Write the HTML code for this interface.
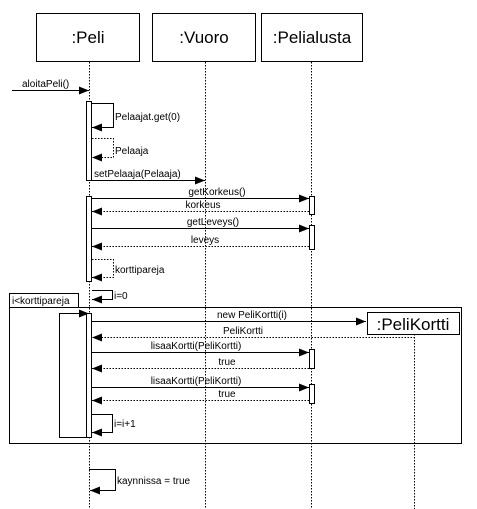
<!DOCTYPE html>
<html><head><meta charset="utf-8"><style>
html,body{margin:0;padding:0;background:#fff;width:477px;height:509px;overflow:hidden}
svg{display:block}
text{font-family:"Liberation Sans",Arial,sans-serif;fill:#000}
</style></head><body>
<svg width="477" height="509" viewBox="0 0 477 509" xmlns="http://www.w3.org/2000/svg">
<defs>
<marker id="a" markerWidth="10" markerHeight="8" refX="10" refY="4" orient="auto" markerUnits="userSpaceOnUse">
<path d="M0,0 L10,4 L0,8 Z" fill="#000"/></marker>
</defs>
<g fill="#fff" stroke="#000" stroke-width="1">
<rect x="36.5" y="13.5" width="103" height="48"/>
<rect x="152.5" y="13.5" width="103" height="48"/>
<rect x="261.5" y="13.5" width="101" height="48"/>
</g>
<g font-size="17" text-anchor="middle">
<text x="88" y="43">:Peli</text>
<text x="204" y="43">:Vuoro</text>
<text x="312" y="43">:Pelialusta</text>
</g>
<g stroke="#000" stroke-dasharray="1.5,1.5" stroke-width="1">
<line x1="89.5" y1="62" x2="89.5" y2="509"/>
<line x1="205.5" y1="62" x2="205.5" y2="509"/>
<line x1="311.5" y1="62" x2="311.5" y2="509"/>
<line x1="414.5" y1="334" x2="414.5" y2="509"/>
</g>
<!-- frame -->
<rect x="9.5" y="307.5" width="452" height="136" fill="none" stroke="#000"/>
<rect x="9.5" y="293.5" width="69" height="14" fill="#fff" stroke="#000"/>
<text x="12" y="304" font-size="10">i&lt;korttipareja</text>
<rect x="59.5" y="313.5" width="30" height="124" fill="#fff" stroke="#000"/>
<!-- activations -->
<g fill="#fff" stroke="#000">
<rect x="86.5" y="101.5" width="5" height="79"/>
<rect x="86.5" y="196.5" width="5" height="85"/>
<rect x="86.5" y="313.5" width="5" height="124"/>
<rect x="309.5" y="196.5" width="5" height="18"/>
<rect x="309.5" y="225.5" width="5" height="24"/>
<rect x="309.5" y="349.5" width="5" height="19"/>
<rect x="309.5" y="384.5" width="5" height="19"/>
</g>
<g fill="none" stroke="#000" stroke-width="1">
<line x1="12" y1="90.5" x2="89" y2="90.5" marker-end="url(#a)"/>
<polyline points="92,103.5 113.5,103.5 113.5,127.5 92,127.5" marker-end="url(#a)"/>
<polyline points="92,138.5 113.5,138.5 113.5,157.5 92,157.5" stroke-dasharray="1.5,1.5" marker-end="url(#a)"/>
<line x1="92" y1="180.5" x2="205" y2="180.5" marker-end="url(#a)"/>
<line x1="92" y1="198.5" x2="309" y2="198.5" marker-end="url(#a)"/>
<line x1="309" y1="211.5" x2="92" y2="211.5" stroke-dasharray="1.5,1.5" marker-end="url(#a)"/>
<line x1="92" y1="228.5" x2="309" y2="228.5" marker-end="url(#a)"/>
<line x1="309" y1="246.5" x2="92" y2="246.5" stroke-dasharray="1.5,1.5" marker-end="url(#a)"/>
<polyline points="92,259.5 113.5,259.5 113.5,277.5 92,277.5" stroke-dasharray="1.5,1.5" marker-end="url(#a)"/>
<polyline points="92,290.5 112.5,290.5 112.5,299.5 92,299.5" marker-end="url(#a)"/>
<line x1="60" y1="313.5" x2="89" y2="313.5" marker-end="url(#a)"/>
<line x1="92" y1="321.5" x2="366" y2="321.5" marker-end="url(#a)"/>
<polyline points="414.5,334 414.5,337.5 92,337.5" stroke-dasharray="1.5,1.5" marker-end="url(#a)"/>
<line x1="92" y1="352.5" x2="309" y2="352.5" marker-end="url(#a)"/>
<line x1="309" y1="368.5" x2="92" y2="368.5" stroke-dasharray="1.5,1.5" marker-end="url(#a)"/>
<line x1="92" y1="387.5" x2="309" y2="387.5" marker-end="url(#a)"/>
<line x1="309" y1="400.5" x2="92" y2="400.5" stroke-dasharray="1.5,1.5" marker-end="url(#a)"/>
<polyline points="92,414.5 112.5,414.5 112.5,432.5 92,432.5" marker-end="url(#a)"/>
<polyline points="89,469.5 115.5,469.5 115.5,490.5 90,490.5" marker-end="url(#a)"/>
</g>
<rect x="367.5" y="312.5" width="92" height="22" fill="#fff" stroke="#000"/>
<text x="413" y="330" font-size="17" text-anchor="middle">:PeliKortti</text>
<g font-size="10">
<text x="22" y="87">aloitaPeli()</text>
<text x="115" y="120">Pelaajat.get(0)</text>
<text x="115" y="154">Pelaaja</text>
<text x="94" y="177">setPelaaja(Pelaaja)</text>
<text x="217" y="195" text-anchor="middle">getKorkeus()</text>
<text x="203" y="208" text-anchor="middle">korkeus</text>
<text x="213" y="225" text-anchor="middle">getLeveys()</text>
<text x="205" y="243" text-anchor="middle">leveys</text>
<text x="115" y="273">korttipareja</text>
<text x="114" y="299">i=0</text>
<text x="252" y="318" text-anchor="middle">new PeliKortti(i)</text>
<text x="243" y="334" text-anchor="middle">PeliKortti</text>
<text x="196" y="349" text-anchor="middle">lisaaKortti(PeliKortti)</text>
<text x="227" y="365" text-anchor="middle">true</text>
<text x="196" y="384" text-anchor="middle">lisaaKortti(PeliKortti)</text>
<text x="227" y="397" text-anchor="middle">true</text>
<text x="114" y="427">i=i+1</text>
<text x="117" y="484">kaynnissa = true</text>
</g>
</svg>
</body></html>
